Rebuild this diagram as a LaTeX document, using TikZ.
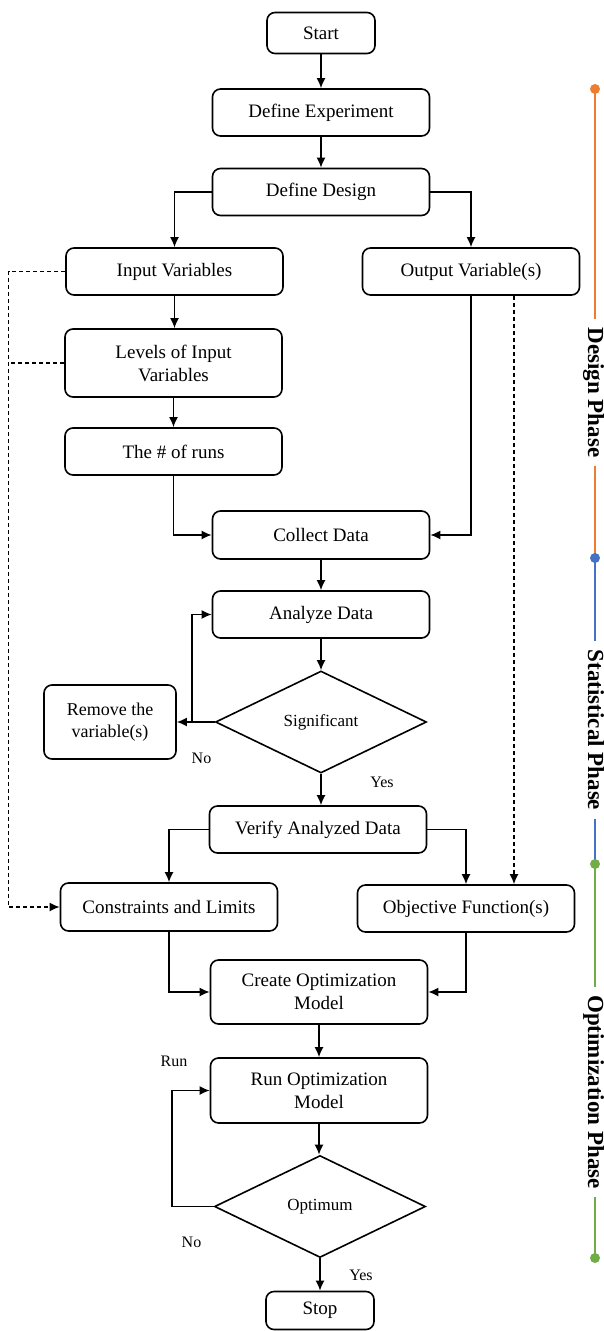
\documentclass[tikz,border=0pt]{standalone}
\usepackage{fontspec}
\setmainfont{Liberation Serif}
\usetikzlibrary{arrows.meta,shapes.geometric}
\definecolor{designc}{HTML}{ED7D31}
\definecolor{statc}{HTML}{4472C4}
\definecolor{optc}{HTML}{70AD47}

\begin{document}
\begin{tikzpicture}[x=0.5pt, y=-0.5pt,
	every node/.style={font=\fontsize{9.5}{11.5}\selectfont},
	>={Latex[length=5pt,width=4.5pt]},
	box/.style={draw, line width=0.8pt, rounded corners=4pt, align=center, minimum width=108.5pt, minimum height=23.5pt, inner sep=1pt},
	decision/.style={draw, line width=0.8pt, diamond, aspect=2.07, minimum width=105.5pt, minimum height=51pt, inner sep=0pt, font=\fontsize{8.5}{10}\selectfont},
	flow/.style={->, line width=0.8pt},
	dashline/.style={line width=0.8pt, dash pattern=on 2pt off 1.5pt},
	tag/.style={font=\fontsize{8}{10}\selectfont},
	phase/.style={font=\bfseries\fontsize{11.5}{14}\selectfont, rotate=-90, anchor=base, inner xsep=4pt, inner ysep=0pt}]
	\useasboundingbox (0,0) rectangle (604,1331);
	% design phase
	\node[box, minimum width=54pt, minimum height=20.5pt] (start) at (321,33) {Start};
	\node[box] (defexp) at (321,112.5) {Define Experiment};
	\node[box] (defdes) at (321,192) {Define Design};
	\node[box] (input) at (174.5,271.5) {Input Variables};
	\node[box] (output) at (471,271.5) {Output Variable(s)};
	\node[box, minimum height=34pt] (levels) at (173.5,363) {Levels of Input\\Variables};
	\node[box] (runs) at (173.5,451.5) {The \# of runs};
	\node[box, minimum height=24pt] (collect) at (321,535) {Collect Data};
	% statistical phase
	\node[box] (analyze) at (321,614.5) {Analyze Data};
	\node[decision] (sig) at (321,722) {Significant};
	\node[box, minimum width=66pt, minimum height=37pt, font=\fontsize{9}{11}\selectfont] (remove) at (110,722) {Remove the\\variable(s)};
	\node[box] (verify) at (318,829.5) {Verify Analyzed Data};
	% optimization phase
	\node[box, minimum height=24pt] (constr) at (169,907) {Constraints and Limits};
	\node[box] (objective) at (466,908.5) {Objective Function(s)};
	\node[box, minimum height=32pt] (create) at (319,992) {Create Optimization\\Model};
	\node[box, minimum height=32.5pt] (runopt) at (319,1090.5) {Run Optimization\\Model};
	\node[decision] (opt) at (320,1206.5) {Optimum};
	\node[box, minimum width=54pt, minimum height=19pt] (stop) at (320,1310.5) {Stop};
	% labels on the branches
	\node[tag] (no1) at (201.5,758) {No};
	\node[tag] (yes1) at (382,782) {Yes};
	\node[tag] (runlbl) at (174,1061) {Run};
	\node[tag] (no2) at (191.5,1242) {No};
	\node[tag] (yes2) at (361,1275) {Yes};
	% main flow
	\draw[flow] (start) -- (defexp);
	\draw[flow] (defexp) -- (defdes);
	\draw[flow] (defdes.west) -| (input.north);
	\draw[flow] (defdes.east) -| (output.north);
	\draw[flow] (input.south) -- (input.south |- levels.north);
	\draw[flow] (levels.south) -- (levels.south |- runs.north);
	\draw[flow] (runs.south) |- (collect.west);
	\draw[flow] (output.south) |- (collect.east);
	\draw[flow] (collect) -- (analyze);
	\draw[flow] (analyze) -- (sig);
	\draw[flow] (sig.west) -- (remove.east);
	\coordinate (loopA) at (192,722);
	\draw[flow] (loopA) |- (analyze.west);
	\draw[flow] (sig.south) -- (sig.south |- verify.north);
	\draw[flow] (verify.west) -| (constr.north);
	\draw[flow] (verify.east) -| (objective.north);
	\draw[flow] (constr.south) |- (create.west);
	\draw[flow] (objective.south) |- (create.east);
	\draw[flow] (create) -- (runopt);
	\draw[flow] (runopt.south) -- (runopt.south |- opt.north);
	\draw[flow] (opt.west) -- ++(-42,0) |- (runopt.west);
	\draw[flow] (opt.south) -- (opt.south |- stop.north);
	% dashed feeds
	\coordinate (dL) at (8.5,0);
	\draw[dashline,->] (input.west) -- (input.west -| dL) |- (constr.west);
	\draw[dashline] (levels.west) -- (levels.west -| dL);
	\draw[dashline,->] ([xshift=21.5pt]output.south) -- ([xshift=21.5pt]output.south |- objective.north);
	% phase bar
	\node[phase] (ph1) at (588,392.5) {Design Phase};
	\node[phase] (ph2) at (588,730) {Statistical Phase};
	\node[phase] (ph3) at (588,1092) {Optimization Phase};
	\coordinate (d1) at (595,89);
	\coordinate (d2) at (595,558);
	\coordinate (d3) at (595,864);
	\coordinate (d4) at (595,1258);
	\draw[designc, line width=1.2pt] (d1) -- (d1 |- ph1.west) (d1 |- ph1.east) -- (d2);
	\draw[statc, line width=1.2pt] (d2) -- (d2 |- ph2.west) (d2 |- ph2.east) -- (d3);
	\draw[optc, line width=1.2pt] (d3) -- (d3 |- ph3.west) (d3 |- ph3.east) -- (d4);
	\fill[designc] (d1) circle (2.5pt);
	\fill[statc] (d2) circle (2.5pt);
	\fill[optc] (d3) circle (2.5pt);
	\fill[optc] (d4) circle (2.5pt);
\end{tikzpicture}
\end{document}
